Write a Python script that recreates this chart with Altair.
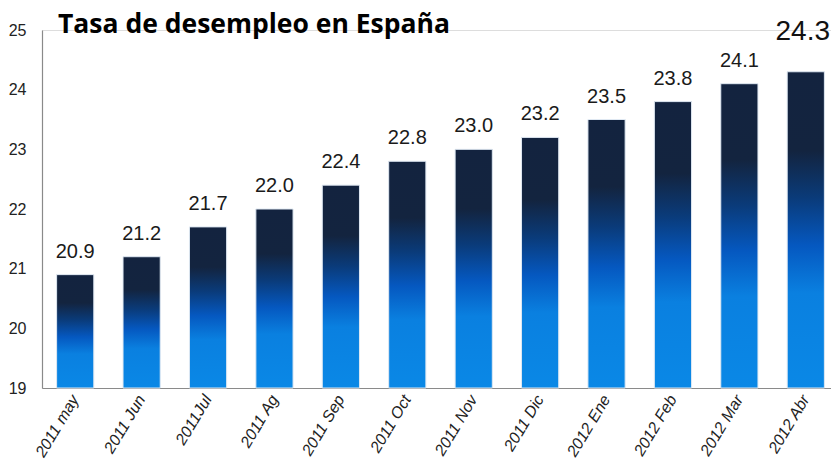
import altair as alt
import pandas as pd

months = ["2011 may", "2011 Jun", "2011Jul", "2011 Ag", "2011 Sep", "2011 Oct",
          "2011 Nov", "2011 Dic", "2012 Ene", "2012 Feb", "2012 Mar", "2012 Abr"]
rates = [20.9, 21.2, 21.7, 22.0, 22.4, 22.8, 23.0, 23.2, 23.5, 23.8, 24.1, 24.3]
title_text = "Tasa de desempleo en España"

df = pd.DataFrame({"month": months, "rate": rates})
last = months[-1]

FONT = "Liberation Sans, Arial"

grad = alt.LinearGradient(
    gradient="linear", x1=0, x2=0, y1=0, y2=1,
    stops=[
        alt.GradientStop(color="#13233f", offset=0.0),
        alt.GradientStop(color="#13243f", offset=0.25),
        alt.GradientStop(color="#0a3b7a", offset=0.40),
        alt.GradientStop(color="#0558c0", offset=0.55),
        alt.GradientStop(color="#0a80e0", offset=0.70),
        alt.GradientStop(color="#0a88e6", offset=1.0),
    ],
)

x = alt.X("month:N", sort=months, title=None,
          scale=alt.Scale(range=[0, 797], paddingInner=0.44, paddingOuter=0.22),
          axis=alt.Axis(labelAngle=301, labelAlign="right", labelBaseline="middle",
                        labelFont=FONT, labelFontSize=16, labelFontStyle="italic",
                        labelColor="#222222", labelPadding=8, ticks=False,
                        domainColor="#8a8a8a", domainWidth=1.2))
y = alt.Y("rate:Q", title=None,
          scale=alt.Scale(domain=[19, 25], zero=False, nice=False),
          axis=alt.Axis(values=[19, 20, 21, 22, 23, 24, 25], format="d",
                        grid=False, ticks=False,
                        labelFont=FONT, labelFontSize=16, labelColor="#222222",
                        labelPadding=16, domainColor="#8a8a8a", domainWidth=1.2))

base = alt.Chart(df)

bars = base.mark_bar(color=grad, stroke="#dfe8f2", strokeWidth=1).encode(
    x=x, y=y, y2=alt.datum(19)
)

labels = base.transform_filter(alt.datum.month != last).mark_text(
    font=FONT, fontSize=20, color="#1a1a1a", baseline="alphabetic", dy=-17
).encode(x=alt.X("month:N", sort=months), y="rate:Q", text=alt.Text("rate:Q", format=".1f"))

big = base.transform_filter(alt.datum.month == last).mark_text(
    font=FONT, fontSize=28, color="#111111", baseline="alphabetic", dy=-32, dx=-3
).encode(x=alt.X("month:N", sort=months), y="rate:Q", text=alt.Text("rate:Q", format=".1f"))

title = alt.Chart(pd.DataFrame({"t": [title_text]})).mark_text(
    font="Open Sans", fontSize=26.5, fontWeight="bold", color="#000000",
    align="left", baseline="alphabetic"
).encode(x=alt.value(16), y=alt.value(3), text="t:N")

chart = alt.layer(bars, labels, big, title).properties(
    width=789, height=358,
    autosize=alt.AutoSizeParams(type="none"),
    padding={"left": 34, "top": 22, "right": 0, "bottom": 73},
).configure_view(stroke=None).configure(background="white")

chart.save("out.html", embed_options={"renderer": "svg", "actions": False})
